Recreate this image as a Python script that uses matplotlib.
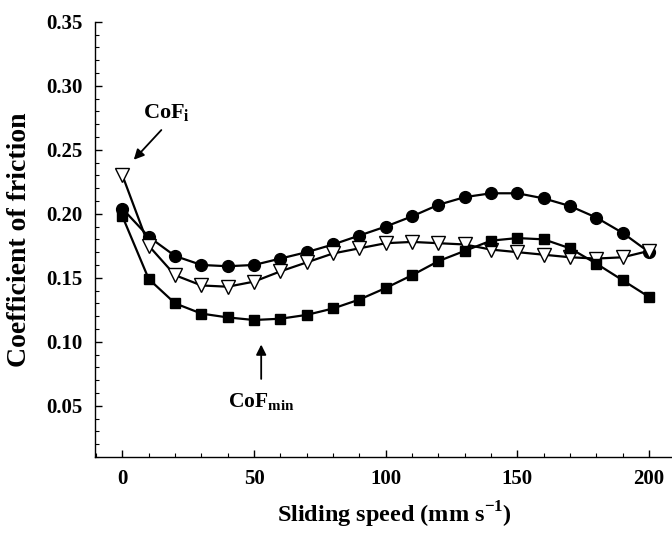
import matplotlib
matplotlib.use("Agg")
import matplotlib.pyplot as plt
from matplotlib.ticker import MultipleLocator, FormatStrFormatter

# Sliding speed (mm/s)
speed = [0, 10, 20, 30, 40, 50, 60, 70, 80, 90, 100,
         110, 120, 130, 140, 150, 160, 170, 180, 190, 200]

# Coefficient of friction, three series
cof_circle = [0.204, 0.182, 0.167, 0.160, 0.159, 0.160, 0.165, 0.170, 0.176, 0.183, 0.190,
              0.198, 0.207, 0.213, 0.216, 0.216, 0.212, 0.206, 0.197, 0.185, 0.170]
cof_triangle = [0.230, 0.175, 0.152, 0.144, 0.143, 0.147, 0.155, 0.162, 0.169, 0.173, 0.177,
                0.178, 0.177, 0.176, 0.172, 0.170, 0.168, 0.166, 0.165, 0.166, 0.171]
cof_square = [0.198, 0.149, 0.130, 0.122, 0.119, 0.117, 0.118, 0.121, 0.126, 0.133, 0.142,
              0.152, 0.163, 0.171, 0.179, 0.181, 0.180, 0.173, 0.161, 0.148, 0.135]

plt.rcParams["font.family"] = ["Liberation Serif", "DejaVu Serif"]
plt.rcParams["font.weight"] = "bold"
plt.rcParams["mathtext.fontset"] = "custom"
plt.rcParams["mathtext.rm"] = "Liberation Serif:bold"
plt.rcParams["mathtext.bf"] = "Liberation Serif:bold"

fig = plt.figure(figsize=(6.72, 5.44), dpi=100)
ax = fig.add_axes([0.1414, 0.16, 0.8586, 0.80])

ax.plot(speed, cof_circle, color="black", lw=1.6, marker="o", ms=8.5,
        mfc="black", mec="black", zorder=3)
ax.plot(speed, cof_triangle, color="black", lw=1.6, marker="v", ms=9.5,
        mfc="white", mec="black", mew=1.0, zorder=4)
ax.plot(speed, cof_square, color="black", lw=1.6, marker="s", ms=7.5,
        mfc="black", mec="black", zorder=5)

ax.set_xlim(-10.4, 208.7)
ax.set_ylim(0.01, 0.35)

ax.xaxis.set_major_locator(MultipleLocator(50))
ax.xaxis.set_minor_locator(MultipleLocator(10))
ax.yaxis.set_minor_locator(MultipleLocator(0.01))
ax.yaxis.set_major_formatter(FormatStrFormatter("%.2f"))
ax.set_yticks([0.05, 0.10, 0.15, 0.20, 0.25, 0.30, 0.35])

ax.spines["top"].set_visible(False)
ax.spines["right"].set_visible(False)
ax.spines["left"].set_linewidth(1.0)
ax.spines["bottom"].set_linewidth(1.0)

ax.tick_params(which="major", direction="in", length=5, width=1.0,
               labelsize=15, pad=9)
ax.tick_params(which="minor", direction="in", length=3, width=0.8)
for lbl in ax.get_xticklabels() + ax.get_yticklabels():
    lbl.set_fontweight("bold")

ax.set_xlabel(r"Sliding speed (mm s$^{\mathbf{-1}}$)", fontsize=17.5,
              fontweight="bold")
ax.xaxis.set_label_coords(0.519, -0.098)
ax.set_ylabel("Coefficient of friction", fontsize=20, fontweight="bold")
ax.yaxis.set_label_coords(-0.109, 0.5)

# Annotations
ax.annotate("", xy=(3.6, 0.2406), xytext=(15.5, 0.267),
            arrowprops=dict(arrowstyle="-|>", color="black", lw=1.3,
                            mutation_scale=15))
ax.text(7.9, 0.2787, r"CoF$_{\mathbf{i}}$", fontsize=16, fontweight="bold",
        ha="left", va="center")

ax.annotate("", xy=(52.7, 0.100), xytext=(52.7, 0.0688),
            arrowprops=dict(arrowstyle="-|>", color="black", lw=1.3,
                            mutation_scale=15))
ax.text(52.7, 0.0531, r"CoF$_{\mathbf{min}}$", fontsize=15.5, fontweight="bold",
        ha="center", va="center")

fig.savefig("out.png", dpi=100)
